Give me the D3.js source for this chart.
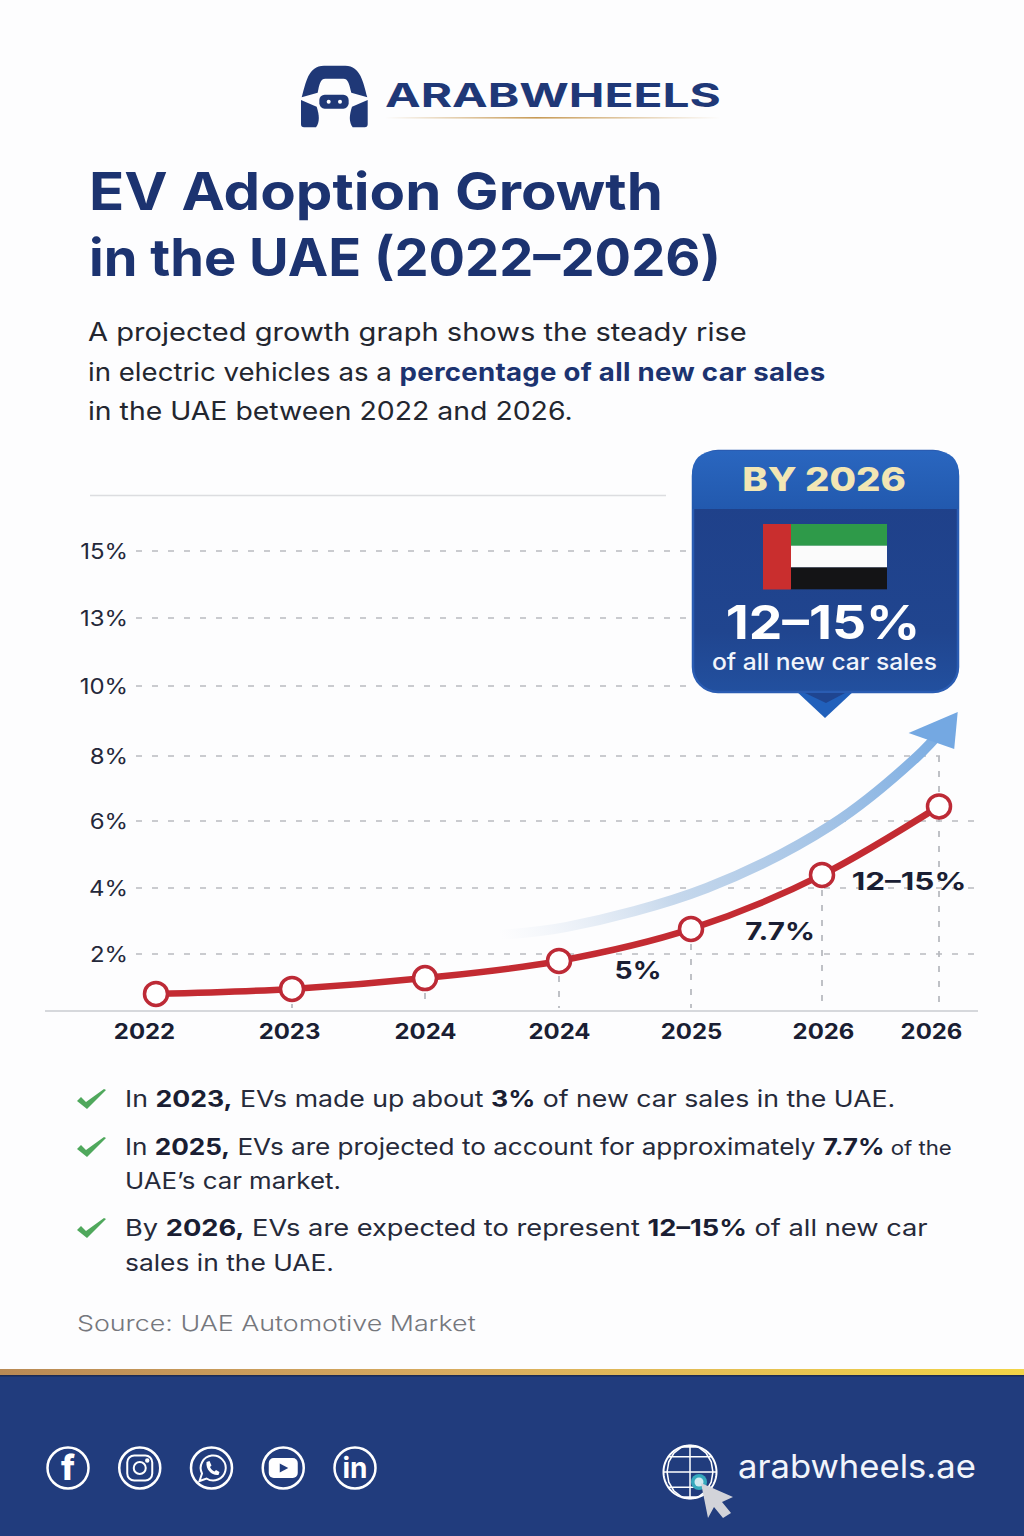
<!DOCTYPE html>
<html>
<head>
<meta charset="utf-8">
<script src="https://cdnjs.cloudflare.com/ajax/libs/d3/7.8.5/d3.min.js"></script>
<style>
  html, body { margin: 0; padding: 0; background: #fdfdfe; }
  svg { display: block; }
  text { font-family: Inter, "Open Sans", sans-serif; }
</style>
</head>
<body>
<div id="chart"></div>
<script>
// chart data
var xLabels = ["2022", "2023", "2024", "2024", "2025", "2026", "2026"];
var evShare = [0.79, 0.94, 1.27, 1.79, 2.76, 4.39, 6.45];
var yTicks = [2, 4, 6, 8, 10, 13, 15];
var pointLabels = ["", "", "", "", "5%", "7.7%", "12–15%"];

// trend arrow, in the same index / percent units as the line
var arrowIdx = [2.56, 3.06, 4.12, 5.08, 5.81, 6.03];
var arrowPct = [2.58, 2.82, 4.0, 5.88, 7.97, 8.75];

var titleLines = ["EV Adoption Growth", "in the UAE (2022–2026)"];
var introLines = [
  [{t: "A projected growth graph shows the steady rise"}],
  [{t: "in electric vehicles as a "}, {t: "percentage of all new car sales", b: 1}],
  [{t: "in the UAE between 2022 and 2026."}]
];
var noteLines = [
  [{t: "In "}, {t: "2023,", b: 1}, {t: " EVs made up about "}, {t: "3%", b: 1}, {t: " of new car sales in the UAE."}],
  [{t: "In "}, {t: "2025,", b: 1}, {t: " EVs are projected to account for approximately "}, {t: "7.7%", b: 1}, {t: " of the", s: 1}],
  [{t: "UAE’s car market."}],
  [{t: "By "}, {t: "2026,", b: 1}, {t: " EVs are expected to represent "}, {t: "12–15%", b: 1}, {t: " of all new car"}],
  [{t: "sales in the UAE."}]
];

var navy = "#1c3370", ink = "#1a1e33", grid = "#b9bbc0", red = "#c32b32";

var svg = d3.select("#chart").append("svg")
    .attr("width", 1024)
    .attr("height", 1536);

var defs = svg.append("defs");

function gradient(id, x1, y1, x2, y2, stops, user) {
  var g = defs.append("linearGradient").attr("id", id)
      .attr("x1", x1).attr("y1", y1).attr("x2", x2).attr("y2", y2);
  if (user) g.attr("gradientUnits", "userSpaceOnUse");
  stops.forEach(function(s) {
    g.append("stop").attr("offset", s[0]).attr("stop-color", s[1]).attr("stop-opacity", s[2] === undefined ? 1 : s[2]);
  });
}

gradient("logoRule", 0, 0, 1, 0, [[0, "#c79a55", 0], [0.45, "#c79a55", 1], [1, "#c79a55", 0]]);
gradient("trend", 500, 935, 945, 730, [[0, "#dfe7f2", 0], [0.35, "#c6d8ec", 1], [0.7, "#a3c3e6", 1], [1, "#7aace2", 1]], true);
gradient("head", 0, 0, 0, 1, [[0, "#2a66bf"], [1, "#2259ae"]]);
gradient("body", 0, 0, 0, 1, [[0, "#1f3f88"], [0.75, "#20458f"], [1, "#22509f"]]);
gradient("gold", 0, 0, 1, 0, [[0, "#b98a55"], [0.45, "#d8ac60"], [1, "#f2d447"]]);

// draws one line of text and squeezes or stretches it to the width measured on the picture
function fitText(parent, x, y, runs, width, opt) {
  opt = opt || {};
  var txt = parent.append("text")
      .attr("font-size", opt.size)
      .attr("font-weight", opt.weight || 400)
      .attr("fill", opt.fill || ink);
  runs.forEach(function(r) {
    var span = txt.append("tspan").text(r.t);
    if (r.b) {
      span.attr("font-weight", opt.boldWeight || 700).attr("fill", opt.boldFill || opt.fill || ink);
      if (opt.boldSpacing) span.attr("letter-spacing", opt.boldSpacing);
    }
    if (r.s) span.attr("font-size", opt.size * 0.85);
  });
  txt.attr("xml:space", "preserve").style("white-space", "pre");
  var k = width / txt.node().getComputedTextLength();
  txt.attr("transform", "translate(" + x + "," + y + ") scale(" + k + ",1)");
  return txt;
}

// ------- logo -------
var logo = svg.append("g").attr("transform", "translate(280,50) scale(0.3333)").attr("fill", "#1f3877");
logo.append("path").attr("d", "M65,142 C78,98 84,47 132,47 L196,47 C242,47 250,98 262,142 L214,128 C208,105 206,86 190,86 L136,86 C120,86 118,105 113,128 Z");
logo.append("path").attr("d", "M63,150 L110,170 C118,195 120,215 108,232 L72,232 Q63,232 63,223 Z");
logo.append("path").attr("d", "M263,150 L216,170 C208,195 206,215 218,232 L254,232 Q263,232 263,223 Z");
logo.append("rect").attr("x", 118).attr("y", 134).attr("width", 88).attr("height", 42).attr("rx", 16);
logo.selectAll("circle.eye").data([146, 180]).enter().append("circle")
    .attr("class", "eye").attr("cx", function(d) { return d; }).attr("cy", 155).attr("r", 6).attr("fill", "#fff");

fitText(svg, 385, 107, [{t: "ARABWHEELS"}], 336, {size: 33, weight: 700, fill: "#1f3877"});
svg.append("rect").attr("x", 385).attr("y", 117).attr("width", 336).attr("height", 1.6).attr("fill", "url(#logoRule)");

// ------- heading -------
fitText(svg, 89, 210, [{t: titleLines[0]}], 574, {size: 52, weight: 700, fill: navy});
fitText(svg, 89, 276, [{t: titleLines[1]}], 632, {size: 52, weight: 700, fill: navy});

var introY = [341, 381, 420], introW = [659, 738, 485];
introLines.forEach(function(l, i) {
  fitText(svg, 88, introY[i], l, introW[i], {size: 25, fill: "#23262f", boldFill: navy, boldSpacing: 0.25});
});

// ------- chart -------
svg.append("line").attr("x1", 90).attr("x2", 666).attr("y1", 495.5).attr("y2", 495.5)
    .attr("stroke", "#dcdde0").attr("stroke-width", 1.5);

var idx = d3.range(xLabels.length);
// the picture spaces its ticks unevenly, so both scales are piecewise
var x = d3.scaleLinear().domain(idx).range([156, 292, 425, 559, 691, 822, 939]);
var xText = d3.scaleLinear().domain(idx).range([144, 289, 425, 559, 691, 823, 931]);
var y = d3.scaleLinear().domain(yTicks).range([954, 888, 821, 756, 686, 618, 551]);
var baseY = 1011;

// grid stops short behind the callout
var gridEnd = {15: 692, 13: 692, 10: 692, 8: 940, 6: 975, 4: 975, 2: 975};
svg.selectAll("line.grid").data(yTicks).enter().append("line")
    .attr("class", "grid")
    .attr("x1", 136)
    .attr("x2", function(d) { return gridEnd[d]; })
    .attr("y1", function(d) { return y(d); })
    .attr("y2", function(d) { return y(d); })
    .attr("stroke", grid).attr("stroke-width", 1.5).attr("stroke-dasharray", "6 10");

svg.selectAll("line.drop").data(idx.slice(1)).enter().append("line")
    .attr("class", "drop")
    .attr("x1", function(i) { return x(i); })
    .attr("x2", function(i) { return x(i); })
    .attr("y1", function(i) { return i == 6 ? y(8) : y(evShare[i]); })
    .attr("y2", baseY - 3)
    .attr("stroke", grid).attr("stroke-width", 1.8).attr("stroke-dasharray", "6 9");

svg.append("line").attr("x1", 45).attr("x2", 978).attr("y1", baseY).attr("y2", baseY)
    .attr("stroke", "#c9cbd0").attr("stroke-width", 1.5);

var yAxis = d3.axisLeft(y).tickValues(yTicks).tickSize(0).tickFormat(function(d) { return d + "%"; });
svg.append("g").attr("transform", "translate(128,1)").call(yAxis)
  .call(function(g) { g.select(".domain").remove(); })
  .selectAll("text")
    .attr("x", 0)
    .attr("transform", "scale(1.14,1)")
    .attr("font-size", 21).attr("font-family", "Inter").attr("fill", "#24283a");

var xAxis = d3.axisBottom(xText).tickValues(idx).tickSize(0).tickFormat(function(i) { return xLabels[i]; });
svg.append("g").attr("transform", "translate(0,1024.5)").call(xAxis)
  .call(function(g) { g.select(".domain").remove(); })
  .selectAll("text")
    .attr("y", 0).attr("dy", "0.71em")
    .attr("transform", "scale(1.14,1)")
    .attr("font-size", 21).attr("font-weight", 700).attr("font-family", "Inter").attr("fill", ink);

// trend arrow
var arrowLine = d3.line()
    .x(function(d, i) { return x(arrowIdx[i]); })
    .y(function(d, i) { return y(arrowPct[i]); })
    .curve(d3.curveCatmullRom);
svg.append("path").attr("d", arrowLine(arrowIdx))
    .attr("fill", "none").attr("stroke", "url(#trend)").attr("stroke-width", 10);
svg.append("path")
    .attr("d", d3.line()([[x(6.16), y(9.26)], [x(5.74), y(8.66)], [x(6.13), y(8.2)]]) + "Z")
    .attr("fill", "#74a8e2");

// main line
var line = d3.line()
    .x(function(d, i) { return x(i); })
    .y(function(d) { return y(d); })
    .curve(d3.curveMonotoneX);
svg.append("path").attr("d", line(evShare))
    .attr("fill", "none").attr("stroke", red).attr("stroke-width", 6.5);
svg.selectAll("circle.pt").data(evShare).enter().append("circle")
    .attr("class", "pt")
    .attr("cx", function(d, i) { return x(i); })
    .attr("cy", function(d) { return y(d); })
    .attr("r", 11.5)
    .attr("fill", "#fff").attr("stroke", "#bd2a36").attr("stroke-width", 3.5);

// dx, dy and glyph stretch of each point label
var labelOffset = {4: [-53, 50, 1.18], 5: [-42, 65, 1.23], 6: [-30, 84, 1.31]};
svg.selectAll("text.pt-label").data(idx.filter(function(i) { return pointLabels[i]; })).enter().append("text")
    .attr("class", "pt-label")
    .attr("text-anchor", "middle")
    .attr("transform", function(i) {
      var o = labelOffset[i];
      return "translate(" + (x(i) + o[0]) + "," + (y(evShare[i]) + o[1]) + ") scale(" + o[2] + ",1)";
    })
    .attr("font-size", 24).attr("font-weight", 700).attr("fill", ink)
    .text(function(i) { return pointLabels[i]; });

// ------- callout -------
var call = svg.append("g");
call.append("path").attr("d", "M795,690 L825,718 L855,690 Z").attr("fill", "#2160bb");
call.append("rect").attr("x", 693).attr("y", 451).attr("width", 265).attr("height", 241).attr("rx", 25)
    .attr("fill", "url(#body)").attr("stroke", "#2a5cb2").attr("stroke-width", 2.5);
call.append("path").attr("d", "M692,509 L692,475 Q692,451 717,451 L934,451 Q959,451 959,475 L959,509 Z").attr("fill", "url(#head)");
call.append("path").attr("d", "M805,693 L826,703 L845,693 Z").attr("fill", "#1f4590");

call.append("text")
    .attr("transform", "translate(824,491) scale(1.2,1)")
    .attr("text-anchor", "middle").attr("font-size", 32).attr("font-weight", 800).attr("fill", "#f2e6b4")
    .text("BY 2026");

var flagBands = ["#2e9a49", "#fbfbfb", "#141416"];
call.selectAll("rect.band").data(flagBands).enter().append("rect")
    .attr("class", "band")
    .attr("x", 790).attr("width", 97)
    .attr("y", function(d, i) { return 524 + i * 21.7; })
    .attr("height", 21.9)
    .attr("fill", function(d) { return d; });
call.append("rect").attr("x", 763).attr("y", 524).attr("width", 28).attr("height", 65.5).attr("fill", "#c92e2e");

call.append("text").attr("transform", "translate(823,639) scale(1.16,1)")
    .attr("text-anchor", "middle").attr("font-size", 46).attr("font-weight", 700).attr("fill", "#fff")
    .text("12–15%");
call.append("text").attr("transform", "translate(824.5,670) scale(1.07,1)")
    .attr("text-anchor", "middle").attr("font-size", 23).attr("font-weight", 500).attr("fill", "#f2f5fb")
    .text("of all new car sales");

// ------- notes -------
var noteY = [1107, 1155, 1189, 1236, 1271], noteW = [771, 827, 216, 803, 209];
noteLines.forEach(function(l, i) {
  fitText(svg, 125, noteY[i], l, noteW[i], {size: 23, fill: "#262a3a", boldFill: ink});
});
svg.selectAll("path.check").data([1099, 1147, 1228]).enter().append("path")
    .attr("class", "check")
    .attr("transform", function(d) { return "translate(91," + d + ")"; })
    .attr("d", "M-14,2 L-10,-2 L-5,3 L13,-10 L15,-9 L-4,10 Z")
    .attr("fill", "#4fa85c");

fitText(svg, 77, 1331, [{t: "Source: UAE Automotive Market"}], 399, {size: 22, weight: 300, fill: "#75777d"});

// ------- footer -------
svg.append("rect").attr("x", 0).attr("y", 1369).attr("width", 1024).attr("height", 7).attr("fill", "url(#gold)");
svg.append("rect").attr("x", 0).attr("y", 1375).attr("width", 1024).attr("height", 161).attr("fill", "#213c7d");
svg.append("rect").attr("x", 0).attr("y", 1375).attr("width", 1024).attr("height", 1.5).attr("fill", "#1b2a55");

var socials = ["facebook", "instagram", "whatsapp", "youtube", "linkedin"];
var socialX = d3.scalePoint().domain(socials).range([68, 355]);
var icons = svg.selectAll("g.social").data(socials).enter().append("g")
    .attr("class", "social")
    .attr("transform", function(d) { return "translate(" + socialX(d) + ",1468)"; });
icons.append("circle").attr("r", 20.5).attr("fill", "none").attr("stroke", "#fff").attr("stroke-width", 2.5);

d3.select(icons.nodes()[0]).append("text").attr("text-anchor", "middle").attr("y", 12)
    .attr("font-size", 34).attr("font-weight", 800).attr("fill", "#fff").attr("font-family", "Open Sans").text("f");

var ig = d3.select(icons.nodes()[1]).attr("fill", "none").attr("stroke", "#fff").attr("stroke-width", 2);
ig.append("rect").attr("x", -12.5).attr("y", -12.5).attr("width", 25).attr("height", 25).attr("rx", 7);
ig.append("circle").attr("r", 6);
ig.append("circle").attr("cx", 7.5).attr("cy", -7.5).attr("r", 1.2).attr("fill", "#fff");

var wa = d3.select(icons.nodes()[2]);
wa.append("path").attr("d", "M-12,13 L-9.5,5.5 A12.5,12.5 0 1 1 -5,10.5 Z").attr("fill", "none").attr("stroke", "#fff").attr("stroke-width", 2);
wa.append("path").attr("d", "M-5,-6 L-2,-7 L0,-2.5 L-1.5,-1 C-0.5,1 1,2.5 3,3.5 L4.5,2 L8,4 L7,7 C1,8 -6,2 -5,-6 Z").attr("fill", "#fff");

var yt = d3.select(icons.nodes()[3]);
yt.append("rect").attr("x", -14.5).attr("y", -10).attr("width", 29).attr("height", 20).attr("rx", 5).attr("fill", "#fff");
yt.append("path").attr("d", "M-3.5,-4.5 L5,0 L-3.5,4.5 Z").attr("fill", "#213c7d");

d3.select(icons.nodes()[4]).append("text").attr("text-anchor", "middle").attr("y", 10)
    .attr("font-size", 28).attr("font-weight", 700).attr("fill", "#fff").text("in");

// globe with cursor
var projection = d3.geoOrthographic().scale(26.5).translate([690, 1472]).rotate([0, 0]).clipAngle(90);
var geo = d3.geoPath(projection);
svg.append("path").datum(d3.geoGraticule().step([60, 35])())
    .attr("d", geo).attr("fill", "none").attr("stroke", "#fff").attr("stroke-width", 1.5);
svg.append("path").datum({type: "Sphere"})
    .attr("d", geo).attr("fill", "none").attr("stroke", "#fff").attr("stroke-width", 2);
svg.append("circle").attr("cx", 699).attr("cy", 1482).attr("r", 8).attr("fill", "#35a9bd");
svg.append("circle").attr("cx", 699).attr("cy", 1482).attr("r", 4.5).attr("fill", "#cfeaf0");
svg.append("path").attr("d", "M701,1483 L733,1497 L722,1502 L731,1513 L723,1518 L714,1507 L708,1518 Z").attr("fill", "#d2d3d9");

fitText(svg, 738, 1478, [{t: "arabwheels.ae"}], 238, {size: 33, fill: "#f2f5fb"});
</script>
</body>
</html>
